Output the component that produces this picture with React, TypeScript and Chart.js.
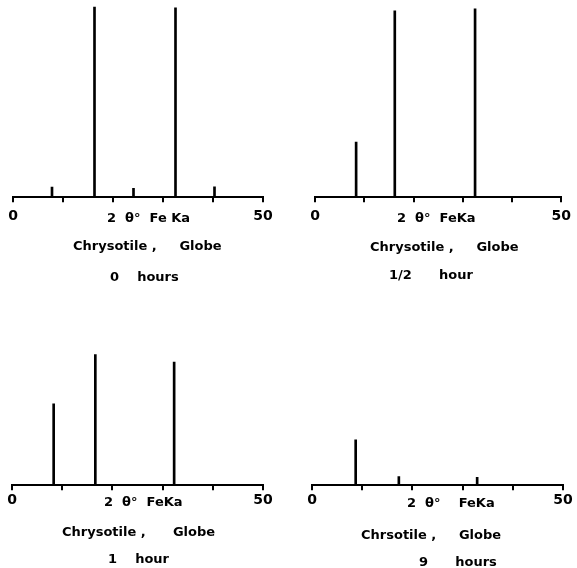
import React, { useEffect, useRef } from "react";
import { Chart, registerables } from "chart.js";

Chart.register(...registerables);

// ---- data (2θ positions in degrees, relative intensities 0–100) ----
const panel1Positions = [7.8, 16.3, 24.1, 32.5, 40.3];
const panel1Intensities = [5.3, 99.5, 4.6, 99, 5.4];

const panel2Positions = [8.35, 16.2, 32.5];
const panel2Intensities = [29, 98, 99];

const panel3Positions = [8.3, 16.6, 32.3];
const panel3Intensities = [42.5, 68.3, 64.4];

const panel4Positions = [8.7, 17.3, 32.9];
const panel4Intensities = [23.7, 4.5, 4.1];

const xTickValues = [0, 10, 20, 30, 40, 50];
const xTickLabels = ["0", "", "", "", "", "50"];

const axisLabels = ["2  θ°  Fe Ka", "2  θ°  FeKa", "2  θ°  FeKa", "2  θ°    FeKa"];
const sampleLabels = [
  "Chrysotile ,     Globe",
  "Chrysotile ,     Globe",
  "Chrysotile ,      Globe",
  "Chrsotile ,     Globe",
];
const durationLabels = ["0    hours", "1/2      hour", "1    hour", "9      hours"];

const panelPositions = [panel1Positions, panel2Positions, panel3Positions, panel4Positions];
const panelIntensities = [panel1Intensities, panel2Intensities, panel3Intensities, panel4Intensities];

// ---- layout (canvas placement and text offsets) ----
type Layout = {
  left: number;
  top: number;
  width: number;
  height: number;
  pad: { left: number; right: number; top: number; bottom: number };
  tickPadding: number;
  axisText: { x: number; dy: number };
  sampleText: { x: number; dy: number };
  durationText: { x: number; dy: number };
};

const layouts: Layout[] = [
  {
    left: 0, top: 0, width: 288, height: 290,
    pad: { left: 13, right: 25, top: 6, bottom: 59 },
    tickPadding: 6,
    axisText: { x: 107, dy: 25 },
    sampleText: { x: 73, dy: 53 },
    durationText: { x: 110, dy: 84 },
  },
  {
    left: 288, top: 0, width: 289, height: 290,
    pad: { left: 27, right: 13, top: 7, bottom: 59 },
    tickPadding: 6,
    axisText: { x: 109, dy: 25 },
    sampleText: { x: 82, dy: 54 },
    durationText: { x: 101, dy: 82 },
  },
  {
    left: 0, top: 290, width: 288, height: 278,
    pad: { left: 12, right: 25, top: 4, bottom: 57 },
    tickPadding: 2,
    axisText: { x: 104, dy: 21 },
    sampleText: { x: 62, dy: 51 },
    durationText: { x: 108, dy: 78 },
  },
  {
    left: 288, top: 290, width: 289, height: 278,
    pad: { left: 24, right: 14, top: 4, bottom: 57 },
    tickPadding: 2,
    axisText: { x: 119, dy: 22 },
    sampleText: { x: 73, dy: 54 },
    durationText: { x: 131, dy: 81 },
  },
];

const FONT_FAMILY = '"DejaVu Sans", sans-serif';

function Panel({ index }: { index: number }) {
  const ref = useRef<HTMLCanvasElement | null>(null);
  const lay = layouts[index];

  useEffect(() => {
    if (!ref.current) return;
    const positions = panelPositions[index];
    const intensities = panelIntensities[index];
    const texts = [
      { text: axisLabels[index], ...lay.axisText },
      { text: sampleLabels[index], ...lay.sampleText },
      { text: durationLabels[index], ...lay.durationText },
    ];

    const textPlugin = {
      id: "panelText",
      afterDraw(chart: any) {
        const ctx = chart.ctx as CanvasRenderingContext2D;
        const bottom = chart.chartArea.bottom;
        ctx.save();
        ctx.fillStyle = "#000";
        ctx.font = `bold 13px ${FONT_FAMILY}`;
        ctx.textAlign = "left";
        ctx.textBaseline = "alphabetic";
        texts.forEach((t) => ctx.fillText(t.text, t.x, bottom + t.dy));
        ctx.restore();
      },
    };

    const chart = new Chart(ref.current, {
      type: "bar",
      data: {
        datasets: [
          {
            data: positions.map((x, i) => ({ x, y: intensities[i] })),
            backgroundColor: "#000",
            borderWidth: 0,
            barThickness: 2,
          } as any,
        ],
      },
      options: {
        animation: false,
        responsive: false,
        events: [],
        layout: { padding: lay.pad },
        plugins: {
          legend: { display: false },
          tooltip: { enabled: false },
          title: { display: false },
        },
        scales: {
          x: {
            type: "linear",
            min: 0,
            max: 50,
            offset: false,
            afterBuildTicks(scale: any) {
              scale.ticks = xTickValues.map((v) => ({ value: v }));
            },
            grid: {
              display: true,
              offset: false,
              drawOnChartArea: false,
              drawTicks: true,
              tickLength: 5,
              color: "#000",
              lineWidth: 2,
            },
            border: { display: true, color: "#000", width: 2 },
            ticks: {
              autoSkip: false,
              maxRotation: 0,
              padding: lay.tickPadding,
              color: "#000",
              font: { family: FONT_FAMILY, size: 14, weight: "bold" },
              callback: (_v: any, i: number) => xTickLabels[i],
            },
          },
          y: {
            display: false,
            min: 0,
            max: 100,
          },
        },
      } as any,
      plugins: [textPlugin],
    });
    return () => chart.destroy();
  }, [index]);

  return (
    <canvas
      ref={ref}
      width={lay.width}
      height={lay.height}
      style={{
        position: "absolute",
        left: lay.left,
        top: lay.top,
        width: lay.width,
        height: lay.height,
      }}
    />
  );
}

export default function App() {
  return (
    <div
      style={{
        position: "absolute",
        left: 0,
        top: 0,
        width: 577,
        height: 568,
        background: "#fff",
      }}
    >
      {[0, 1, 2, 3].map((i) => (
        <Panel key={i} index={i} />
      ))}
    </div>
  );
}
